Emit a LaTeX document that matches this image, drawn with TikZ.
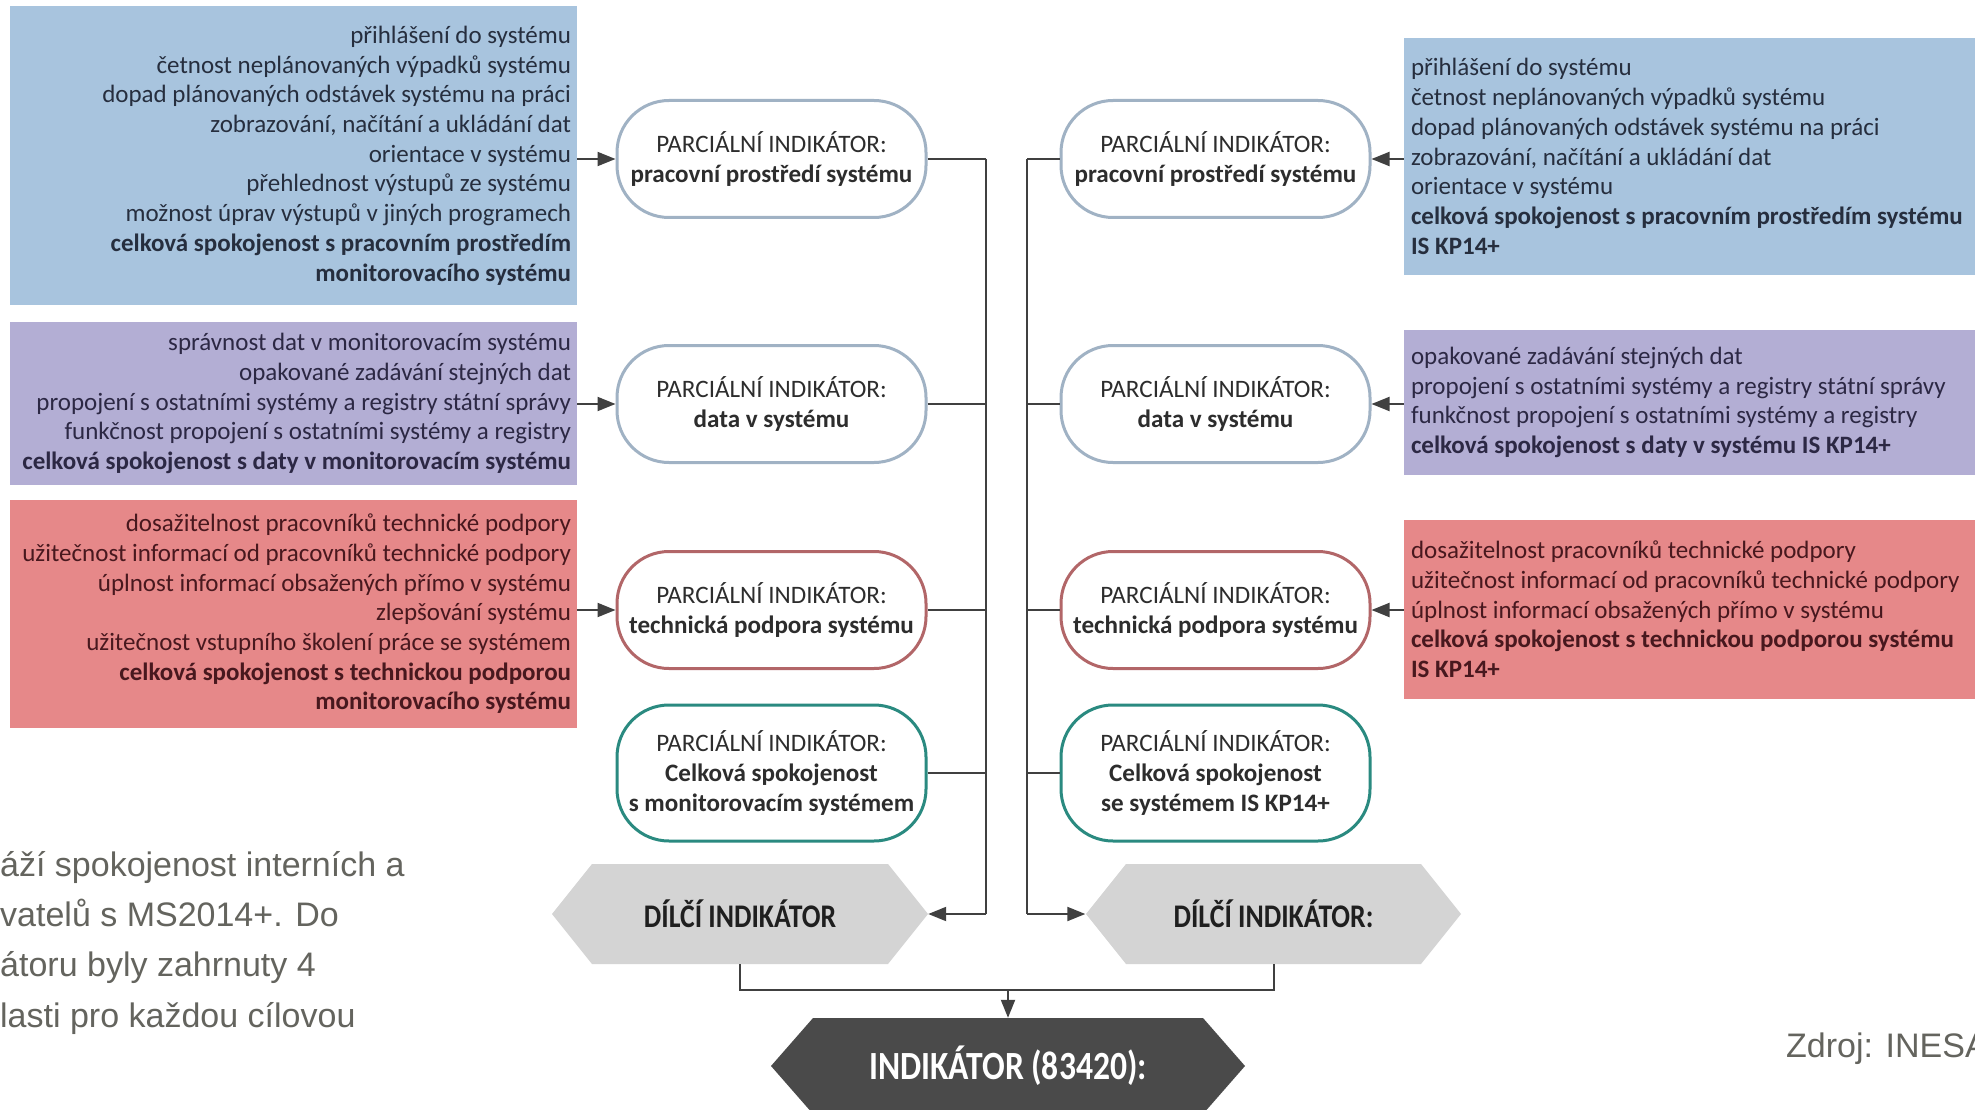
\documentclass[tikz,border=0pt]{standalone}
\usepackage{fontspec}
\setmainfont{Carlito}
\newfontfamily\condfont[FakeStretch=0.84]{Carlito}
\newfontfamily\arialfont{Liberation Sans}
\usetikzlibrary{arrows.meta}
\definecolor{bluebox}{RGB}{168,196,222}
\definecolor{purplebox}{RGB}{179,174,212}
\definecolor{redbox}{RGB}{230,136,137}
\definecolor{bluetxt}{RGB}{38,46,62}
\definecolor{purpletxt}{RGB}{44,40,68}
\definecolor{redtxt}{RGB}{72,24,30}
\definecolor{pillblue}{RGB}{160,178,196}
\definecolor{pillred}{RGB}{178,102,104}
\definecolor{pillteal}{RGB}{42,138,128}
\definecolor{pilltxt}{RGB}{45,45,45}
\definecolor{linec}{RGB}{64,64,64}
\definecolor{hexgray}{RGB}{212,212,212}
\definecolor{hexdark}{RGB}{74,74,74}
\definecolor{paratxt}{RGB}{100,100,94}
\begin{document}
\begin{tikzpicture}[x=1pt,y=-1pt,
  panel/.style={rectangle, draw=none, inner sep=0pt},
  ltxt/.style={inner sep=0pt, anchor=east, align=right, font=\fontsize{25}{29.7}\selectfont},
  rtxt/.style={inner sep=0pt, anchor=west, align=left, font=\fontsize{25}{29.7}\selectfont},
  pill/.style={rectangle, rounded corners=52pt, line width=3pt, fill=white, minimum width=309pt,
    minimum height=117pt, inner sep=0pt, align=center, text=pilltxt, font=\fontsize{25.1}{30}\selectfont},
  conn/.style={draw=linec, line width=2pt},
  arr/.style={conn, -{Triangle[length=18pt,width=14pt]}},
  hexlabel/.style={rectangle, inner sep=0pt, minimum width=376pt, minimum height=100pt,
    text=black!88, font=\condfont\bfseries\fontsize{33}{36}\selectfont},
  para/.style={inner sep=0pt, text=paratxt, font=\arialfont\fontsize{34}{50}\selectfont}]
\path[use as bounding box] (0,0) rectangle (1975,1110);
\clip (0,0) rectangle (1975,1110);
\fill[white] (0,0) rectangle (1975,1110);

% ---------- left panels
\node[panel, fill=bluebox, minimum width=567pt, minimum height=299pt] (lb1) at (293.5,155.5) {};
\node[ltxt, text=bluetxt] (lt1) at ([xshift=-6pt]lb1.east) {přihlášení do systému\\
četnost neplánovaných výpadků systému\\
dopad plánovaných odstávek systému na práci\\
zobrazování, načítání a ukládání dat\\
orientace v systému\\
přehlednost výstupů ze systému\\
možnost úprav výstupů v jiných programech\\
\textbf{celková spokojenost s pracovním prostředím}\\
\textbf{monitorovacího systému}};

\node[panel, fill=purplebox, minimum width=567pt, minimum height=163pt] (lb2) at (293.5,403.5) {};
\node[ltxt, text=purpletxt] (lt2) at ([xshift=-6pt]lb2.east) {správnost dat v monitorovacím systému\\
opakované zadávání stejných dat\\
propojení s ostatními systémy a registry státní správy\\
funkčnost propojení s ostatními systémy a registry\\
\textbf{celková spokojenost s daty v monitorovacím systému}};

\node[panel, fill=redbox, minimum width=567pt, minimum height=228pt] (lb3) at (293.5,614) {};
\node[ltxt, text=redtxt] (lt3) at ([xshift=-6pt]lb3.east) {dosažitelnost pracovníků technické podpory\\
užitečnost informací od pracovníků technické podpory\\
úplnost informací obsažených přímo v systému\\
zlepšování systému\\
užitečnost vstupního školení práce se systémem\\
\textbf{celková spokojenost s technickou podporou}\\
\textbf{monitorovacího systému}};

% ---------- right panels
\node[panel, fill=bluebox, minimum width=571pt, minimum height=237pt] (rb1) at (1689.5,156.5) {};
\node[rtxt, text=bluetxt] (rt1) at ([xshift=7pt]rb1.west) {přihlášení do systému\\
četnost neplánovaných výpadků systému\\
dopad plánovaných odstávek systému na práci\\
zobrazování, načítání a ukládání dat\\
orientace v systému\\
\textbf{celková spokojenost s pracovním prostředím systému}\\
\textbf{IS KP14+}};

\node[panel, fill=purplebox, minimum width=571pt, minimum height=145pt] (rb2) at (1689.5,402.5) {};
\node[rtxt, text=purpletxt] (rt2) at ([xshift=7pt]rb2.west) {opakované zadávání stejných dat\\
propojení s ostatními systémy a registry státní správy\\
funkčnost propojení s ostatními systémy a registry\\
\textbf{celková spokojenost s daty v systému IS KP14+}};

\node[panel, fill=redbox, minimum width=571pt, minimum height=179pt] (rb3) at (1689.5,609.5) {};
\node[rtxt, text=redtxt] (rt3) at ([xshift=7pt]rb3.west) {dosažitelnost pracovníků technické podpory\\
užitečnost informací od pracovníků technické podpory\\
úplnost informací obsažených přímo v systému\\
\textbf{celková spokojenost s technickou podporou systému}\\
\textbf{IS KP14+}};

% ---------- pills
\node[pill, draw=pillblue] (lp1) at (771.5,159) {PARCIÁLNÍ INDIKÁTOR:\\\textbf{pracovní prostředí systému}};
\node[pill, draw=pillblue] (lp2) at (771.5,404) {PARCIÁLNÍ INDIKÁTOR:\\\textbf{data v systému}};
\node[pill, draw=pillred] (lp3) at (771.5,610) {PARCIÁLNÍ INDIKÁTOR:\\\textbf{technická podpora systému}};
\node[pill, draw=pillteal, minimum height=136pt] (lp4) at (771.5,773) {PARCIÁLNÍ INDIKÁTOR:\\\textbf{Celková spokojenost}\\\textbf{s monitorovacím systémem}};

\node[pill, draw=pillblue] (rp1) at (1215.5,159) {PARCIÁLNÍ INDIKÁTOR:\\\textbf{pracovní prostředí systému}};
\node[pill, draw=pillblue] (rp2) at (1215.5,404) {PARCIÁLNÍ INDIKÁTOR:\\\textbf{data v systému}};
\node[pill, draw=pillred] (rp3) at (1215.5,610) {PARCIÁLNÍ INDIKÁTOR:\\\textbf{technická podpora systému}};
\node[pill, draw=pillteal, minimum height=136pt] (rp4) at (1215.5,773) {PARCIÁLNÍ INDIKÁTOR:\\\textbf{Celková spokojenost}\\\textbf{se systémem IS KP14+}};

% ---------- hexagons
\fill[hexgray] (552,914) -- (592,864) -- (888,864) -- (928,914) -- (888,964) -- (592,964) -- cycle;
\fill[hexgray] (1086,914) -- (1126,864) -- (1421,864) -- (1461,914) -- (1421,964) -- (1126,964) -- cycle;
\fill[hexdark] (771,1066) -- (813,1018) -- (1203,1018) -- (1245,1066) -- (1203,1114) -- (813,1114) -- cycle;
\node[hexlabel] (dl) at (740,914) {DÍLČÍ INDIKÁTOR};
\node[hexlabel] (dr) at (1273.5,914) {DÍLČÍ INDIKÁTOR:};
\node[hexlabel, minimum width=474pt, minimum height=96pt, text=white,
  font=\condfont\bfseries\fontsize{40}{42}\selectfont] (ind) at (1008,1066) {INDIKÁTOR (83420):};

% ---------- connectors
\coordinate (jl) at (986,914);
\coordinate (jr) at (1027,914);
\coordinate (jb) at (1008,990);
\foreach \p in {lp1,lp2,lp3,lp4} \draw[conn] (\p.east) -- (\p.east -| jl);
\foreach \p in {rp1,rp2,rp3,rp4} \draw[conn] (\p.west) -- (\p.west -| jr);
\draw[conn] (lp1.east -| jl) -- (jl);
\draw[conn] (rp1.west -| jr) -- (jr);
\draw[arr] (jl) -- (dl.east);
\draw[arr] (jr) -- (dr.west);
\draw[arr] (lb1.east |- lp1.west) -- (lp1.west);
\draw[arr] (lb2.east |- lp2.west) -- (lp2.west);
\draw[arr] (lb3.east |- lp3.west) -- (lp3.west);
\draw[arr] (rb1.west |- rp1.east) -- (rp1.east);
\draw[arr] (rb2.west |- rp2.east) -- (rp2.east);
\draw[arr] (rb3.west |- rp3.east) -- (rp3.east);
\draw[conn] (dl.south) -- (dl.south |- jb) -- (dr.south |- jb) -- (dr.south);
\draw[arr] (jb) -- (ind.north);

% ---------- surrounding text
\node[para, anchor=base west] (t1) at (0,876) {áží spokojenost interních a};
\node[para, anchor=base west] (t2) at (0,926) {vatelů s MS2014+. Do};
\node[para, anchor=base west] (t3) at (0,976) {átoru byly zahrnuty 4};
\node[para, anchor=base west] (t4) at (0,1027) {lasti pro každou cílovou};
\node[para, anchor=base west] (src) at (1786,1057) {Zdroj: INESA};
\end{tikzpicture}
\end{document}
